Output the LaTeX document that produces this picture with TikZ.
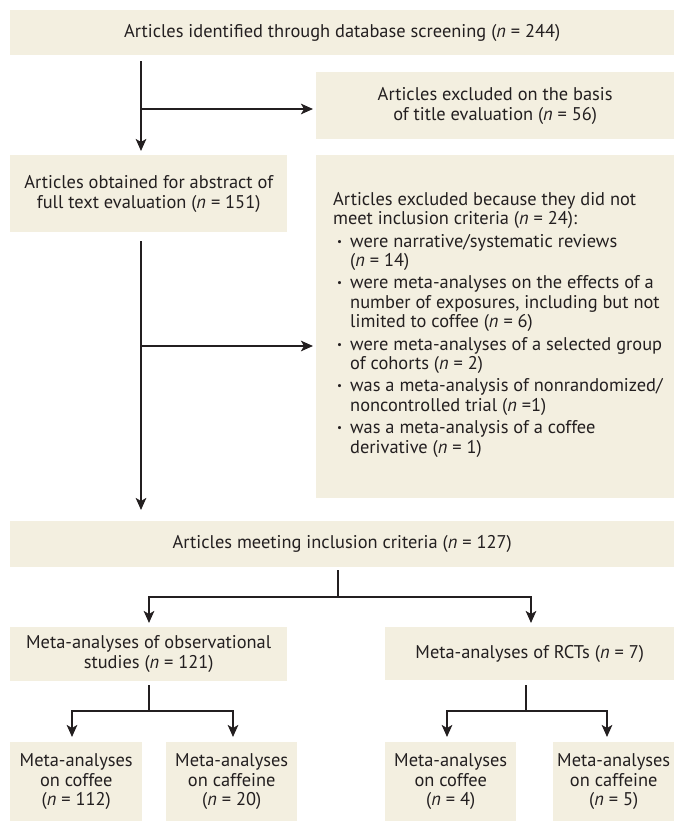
\documentclass[tikz,border=0pt]{standalone}
\usepackage{fontspec}
\setmainfont{PT Sans}
\usetikzlibrary{arrows.meta,calc}
\definecolor{boxfill}{RGB}{243,239,224}
\definecolor{ink}{RGB}{35,31,32}
\newcommand\fs{\fontsize{18.4bp}{19.6bp}\selectfont}
\newcommand\nn{\textit{n}}
\newcommand\bul{\hspace*{4bp}\makebox[13bp][l]{\raisebox{1.8bp}{\fontsize{11bp}{11bp}\selectfont •}}}
\newcommand\ind{\hspace*{17bp}}
\tikzset{
  box/.style={fill=boxfill, inner sep=0pt, anchor=north west, align=center, font=\fs, text=ink},
  txt/.style={inner sep=0pt, align=left, font=\fs, text=ink},
  arr/.style={draw=ink, line width=2.5bp, -{Stealth[length=12bp,width=10.5bp,inset=3bp]}},
  ln/.style={draw=ink, line width=2.5bp},
}
\begin{document}
\begin{tikzpicture}[x=1bp,y=-1bp]
\useasboundingbox (0,0) rectangle (674,821);
% boxes
\node[box, minimum width=664bp, minimum height=45bp] (top) at (10,10)
  {Articles identified through database screening (\nn{} = 244)};
\node[box, minimum width=358bp, minimum height=67bp] (excl1) at (316,72)
  {Articles excluded on the basis\\of title evaluation (\nn{} = 56)};
\node[box, minimum width=277bp, minimum height=77bp] (abs) at (10,155)
  {Articles obtained for abstract of\\full text evaluation (\nn{} = 151)};
\node[box, minimum width=358bp, minimum height=343bp] (excl2) at (316,155) {};
\node[txt, anchor=west] (excl2t) at ([xshift=17bp,yshift=2bp]excl2.west)
  {Articles excluded because they did not\\
   meet inclusion criteria (\nn{} = 24):\\[2.5bp]
   \bul were narrative/systematic reviews\\
   \ind(\nn{} = 14)\\[2.5bp]
   \bul were meta-analyses on the effects of a\\
   \ind number of exposures, including but not\\
   \ind limited to coffee (\nn{} = 6)\\[2.5bp]
   \bul were meta-analyses of a selected group\\
   \ind of cohorts (\nn{} = 2)\\[2.5bp]
   \bul was a meta-analysis of nonrandomized/\\
   \ind noncontrolled trial (\nn{} =1)\\[2.5bp]
   \bul was a meta-analysis of a coffee\\
   \ind derivative (\nn{} = 1)};
\node[box, minimum width=664bp, minimum height=46bp] (incl) at (10,521)
  {Articles meeting inclusion criteria (\nn{} = 127)};
\node[box, minimum width=277bp, minimum height=54bp] (obs) at (10,627)
  {Meta-analyses of observational\\studies (\nn{} = 121)};
\node[box, minimum width=289bp, minimum height=53bp] (rct) at (385,627)
  {Meta-analyses of RCTs (\nn{} = 7)};
\node[box, minimum width=132bp, minimum height=79bp] (oc) at (10,742)
  {Meta-analyses\\on coffee\\(\nn{} = 112)};
\node[box, minimum width=131bp, minimum height=79bp] (ocf) at (166,742)
  {Meta-analyses\\on caffeine\\(\nn{} = 20)};
\node[box, minimum width=131bp, minimum height=79bp] (rc) at (385,742)
  {Meta-analyses\\on coffee\\(\nn{} = 4)};
\node[box, minimum width=121bp, minimum height=79bp] (rcf) at (553,742)
  {Meta-analyses\\on caffeine\\(\nn{} = 5)};
% helper coordinates
\coordinate (s1) at (141,0);
\coordinate (b1) at (141,109);
\coordinate (b2) at (141,346);
\coordinate (j1) at (338,597);
\coordinate (a1) at (149,0);
\coordinate (a2) at (531,0);
\coordinate (j2) at (149,711);
\coordinate (c1) at (72,0);
\coordinate (c2) at (233,0);
\coordinate (j3) at (526,711);
\coordinate (d1) at (447,0);
\coordinate (d2) at (607,0);
% connectors
\draw[arr] ($(top.south -| s1)+(0,6)$) -- ($(s1 |- abs.north)+(0,-4)$);
\draw[arr] (b1) -- ($(b1 -| excl1.west)+(-3,0)$);
\draw[arr] ($(abs.south -| s1)+(0,9)$) -- ($(s1 |- incl.north)+(0,-11)$);
\draw[arr] (b2) -- ($(b2 -| excl2.west)+(-3,0)$);
\draw[ln] ($(incl.south -| j1)+(0,3)$) -- (j1);
\draw[arr] (j1) -| ($(a1 |- obs.north)+(0,-4)$);
\draw[arr] (j1) -| ($(a2 |- rct.north)+(0,-4)$);
\draw[ln] ($(obs.south -| j2)+(0,4)$) -- (j2);
\draw[arr] (j2) -| ($(c1 |- oc.north)+(0,-5)$);
\draw[arr] (j2) -| ($(c2 |- ocf.north)+(0,-5)$);
\draw[ln] ($(rct.south -| j3)+(0,5)$) -- (j3);
\draw[arr] (j3) -| ($(d1 |- rc.north)+(0,-5)$);
\draw[arr] (j3) -| ($(d2 |- rcf.north)+(0,-5)$);
\end{tikzpicture}
\end{document}
